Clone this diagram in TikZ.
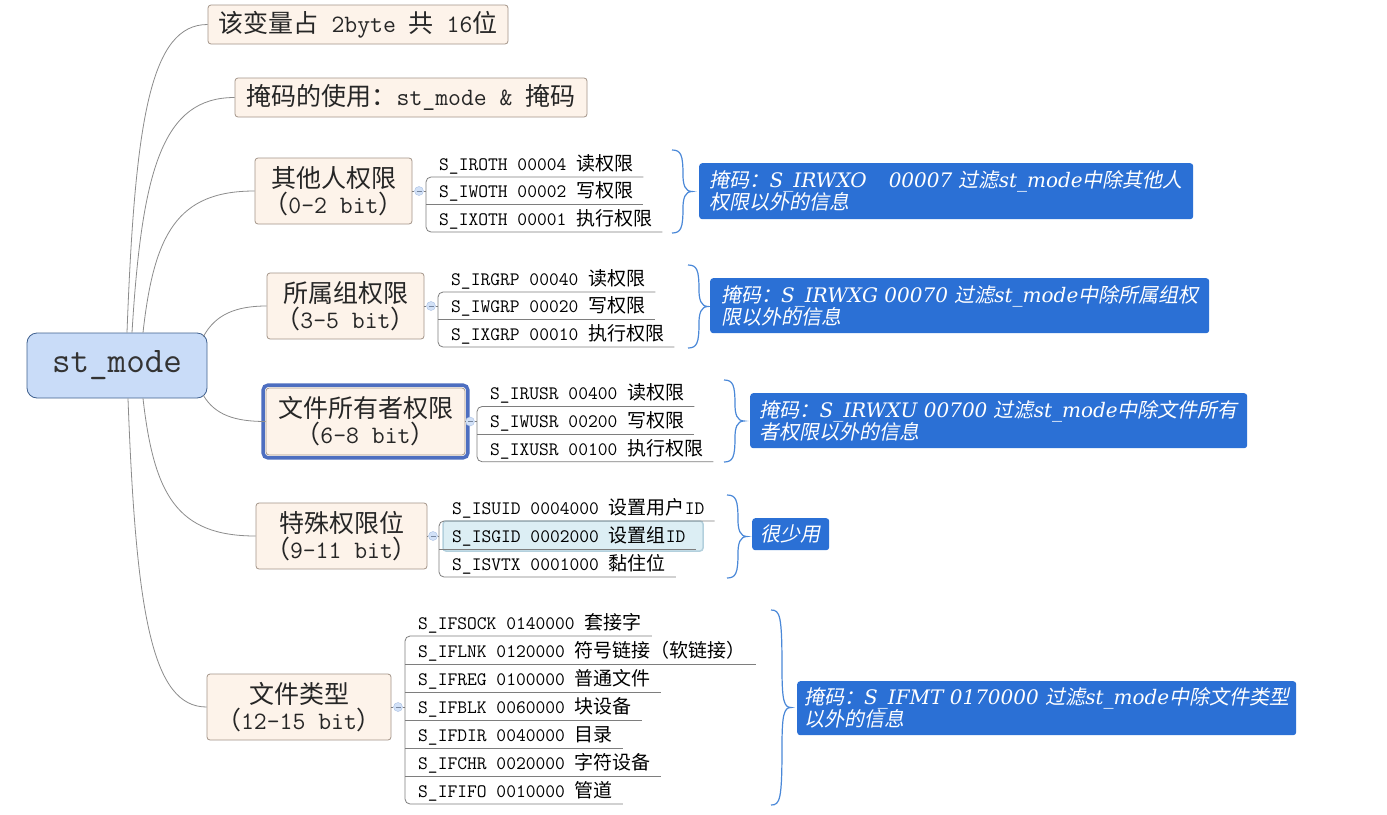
\documentclass[tikz,border=0pt]{standalone}
\usepackage{fontspec}
\newfontfamily\cjk{Noto Sans CJK SC}
\newfontfamily\cjkit[FakeSlant=0.2]{Noto Sans CJK SC}
\newfontfamily\noteserif{DejaVu Serif}
\usetikzlibrary{calc}

\definecolor{topicfill}{HTML}{FDF3EA}
\definecolor{topicline}{HTML}{A39488}
\definecolor{rootfill}{HTML}{C9DCF8}
\definecolor{rootline}{HTML}{40618F}
\definecolor{noteblue}{HTML}{2B70D5}
\definecolor{bracecol}{HTML}{4A88D8}
\definecolor{branchcol}{HTML}{8C8C8C}
\definecolor{selblue}{HTML}{4D6EC0}
\definecolor{hilitefill}{HTML}{DCEEF4}
\definecolor{hiliteline}{HTML}{B3D0DD}
\definecolor{togglefill}{HTML}{D2E1F7}
\definecolor{toggleline}{HTML}{A9BFE3}

% 花括号: x, 上端, 下端
\newcommand{\notebrace}[3]{%
  \draw[bracel] (#1,#2) .. controls ({#1+9},#2) and ({#1+11},{#2+5}) .. ({#1+11},{#2+0.3*(#3-#2)})
    .. controls ({#1+11},{0.5*(#2+#3)-7}) and ({#1+13},{0.5*(#2+#3)}) .. ({#1+20},{0.5*(#2+#3)})
    .. controls ({#1+13},{0.5*(#2+#3)}) and ({#1+11},{0.5*(#2+#3)+7}) .. ({#1+11},{#3-0.3*(#3-#2)})
    .. controls ({#1+11},{#3-5}) and ({#1+9},#3) .. (#1,#3);}

\begin{document}
\begin{tikzpicture}[x=1pt, y=-1pt,
  root/.style={draw=rootline, fill=rootfill, rounded corners=10pt, line width=0.8pt,
    minimum width=180pt, minimum height=65pt, font=\ttfamily\fontsize{36}{40}\selectfont, text=black!80},
  topic/.style={draw=topicline, fill=topicfill, rounded corners=3pt, line width=0.8pt, align=center,
    inner sep=0pt, font=\ttfamily\fontsize{25}{26}\selectfont, text=black!85},
  leaf/.style={anchor=south west, inner xsep=10pt, inner ysep=2.5pt, text height=15pt, text depth=4pt,
    font=\ttfamily\fontsize{19}{22}\selectfont},
  note/.style={anchor=north west, fill=noteblue, text=white, rounded corners=3pt, align=left,
    inner xsep=6pt, inner ysep=4pt, font=\noteserif\itshape\fontsize{20}{22}\selectfont},
  branch/.style={draw=branchcol, line width=0.8pt},
  leafline/.style={draw=branchcol!90!black, line width=0.8pt},
  toggle/.style={circle, draw=toggleline, fill=togglefill, minimum size=9pt, inner sep=0pt,
    path picture={\draw[toggleline!70!black, line width=0.6pt] ([xshift=-2.5pt]path picture bounding box.center) -- ([xshift=2.5pt]path picture bounding box.center);}},
  bracel/.style={line width=1.2pt, draw=bracecol},
  selframe/.style={draw=selblue, line width=3.5pt, rounded corners=5pt},
  ]
  \useasboundingbox (0,0) rectangle (1387,814);
  \fill[white] (0,0) rectangle (1387,814);

  \node[root] (root) at (117,365.5) {st\_mode};

  % 主题
  \node[topic, minimum width=300pt, minimum height=39pt] (t1) at (358,24.5)
    {{\cjk 该变量占} 2byte {\cjk 共} 16{\cjk 位}};
  \node[topic, minimum width=352pt, minimum height=39pt] (t2) at (411,97.5)
    {{\cjk 掩码的使用：}st\_mode \& {\cjk 掩码}};
  \node[topic, minimum width=157pt, minimum height=66pt] (t3) at (333.5,191)
    {{\cjk 其他人权限}\\{\cjk （}0-2 bit{\cjk ）}};
  \node[topic, minimum width=157pt, minimum height=66pt] (t4) at (345.5,306)
    {{\cjk 所属组权限}\\{\cjk （}3-5 bit{\cjk ）}};
  \node[topic, minimum width=199pt, minimum height=67pt] (t5) at (365.5,421.5)
    {{\cjk 文件所有者权限}\\{\cjk （}6-8 bit{\cjk ）}};
  \node[topic, minimum width=171pt, minimum height=66pt] (t6) at (341.5,536)
    {{\cjk 特殊权限位}\\{\cjk （}9-11 bit{\cjk ）}};
  \node[topic, minimum width=184pt, minimum height=66pt] (t7) at (299,707)
    {{\cjk 文件类型}\\{\cjk （}12-15 bit{\cjk ）}};
  \draw[selframe] ([xshift=-2.5pt,yshift=2.5pt]t5.north west) rectangle ([xshift=2.5pt,yshift=-2.5pt]t5.south east);

  % 分支
  \draw[branch] ([xshift=10pt]root.north) .. controls (135,117) and (151,24.5) .. (t1.west);
  \draw[branch] ([xshift=15pt]root.north) .. controls (142,168) and (163,97.5) .. (t2.west);
  \draw[branch] ([xshift=26pt]root.north) .. controls (154,234) and (177,191) .. (t3.west);
  \draw[branch] ([xshift=-4pt,yshift=-4pt]root.north east) .. controls (215,315) and (235,306) .. (t4.west);
  \draw[branch] ([xshift=-4pt,yshift=3pt]root.south east) .. controls (215,415) and (235,421.5) .. (t5.west);
  \draw[branch] ([xshift=26pt]root.south) .. controls (154,495) and (177,536) .. (t6.west);
  \draw[branch] ([xshift=11pt]root.south) .. controls (136,614) and (152,707) .. (t7.west);

  % 其他人权限
  \node[leaf] (l31) at (429,177) {S\_IROTH 00004 {\cjk 读权限}};
  \node[leaf] (l32) at (429,204.5) {S\_IWOTH 00002 {\cjk 写权限}};
  \node[leaf] (l33) at (429,232) {S\_IXOTH 00001 {\cjk 执行权限}};
  \coordinate (v3) at (426,191);
  \node[toggle] (k3) at (419,191) {};
  \draw[leafline] (t3.east) -- (k3) -- (v3);
  \draw[leafline, rounded corners=5pt] (l31.south east) -- (l31.south west -| v3) -- (l33.south west -| v3) -- (l33.south east);
  \draw[leafline] (l32.south west -| v3) -- (l32.south east);

  % 所属组权限
  \node[leaf] (l41) at (441,292) {S\_IRGRP 00040 {\cjk 读权限}};
  \node[leaf] (l42) at (441,319.5) {S\_IWGRP 00020 {\cjk 写权限}};
  \node[leaf] (l43) at (441,347) {S\_IXGRP 00010 {\cjk 执行权限}};
  \coordinate (v4) at (438,306);
  \node[toggle] (k4) at (431,306) {};
  \draw[leafline] (t4.east) -- (k4) -- (v4);
  \draw[leafline, rounded corners=5pt] (l41.south east) -- (l41.south west -| v4) -- (l43.south west -| v4) -- (l43.south east);
  \draw[leafline] (l42.south west -| v4) -- (l42.south east);

  % 文件所有者权限
  \node[leaf] (l51) at (480,406.5) {S\_IRUSR 00400 {\cjk 读权限}};
  \node[leaf] (l52) at (480,434) {S\_IWUSR 00200 {\cjk 写权限}};
  \node[leaf] (l53) at (480,461.7) {S\_IXUSR 00100 {\cjk 执行权限}};
  \coordinate (v5) at (477,421.5);
  \node[toggle] (k5) at (470,421.5) {};
  \draw[leafline] (t5.east) -- (k5) -- (v5);
  \draw[leafline, rounded corners=5pt] (l51.south east) -- (l51.south west -| v5) -- (l53.south west -| v5) -- (l53.south east);
  \draw[leafline] (l52.south west -| v5) -- (l52.south east);

  % 特殊权限位
  \draw[fill=hilitefill, draw=hiliteline, line width=1.5pt, rounded corners=3pt] (443,521) rectangle (703,551);
  \node[leaf] (l61) at (442,521) {S\_ISUID 0004000 {\cjk 设置用户}ID};
  \node[leaf] (l62) at (442,549) {S\_ISGID 0002000 {\cjk 设置组}ID};
  \node[leaf] (l63) at (442,577) {S\_ISVTX 0001000 {\cjk 黏住位}};
  \coordinate (v6) at (439,536);
  \node[toggle] (k6) at (433,536) {};
  \draw[leafline] (t6.east) -- (k6) -- (v6);
  \draw[leafline, rounded corners=5pt] (l61.south east) -- (l61.south west -| v6) -- (l63.south west -| v6) -- (l63.south east);
  \draw[leafline] (l62.south west -| v6) -- (l62.south east);

  % 文件类型
  \node[leaf] (l71) at (408,636) {S\_IFSOCK 0140000 {\cjk 套接字}};
  \node[leaf] (l72) at (408,664) {S\_IFLNK 0120000 {\cjk 符号链接（软链接）}};
  \node[leaf] (l73) at (408,692) {S\_IFREG 0100000 {\cjk 普通文件}};
  \node[leaf] (l74) at (408,720) {S\_IFBLK 0060000 {\cjk 块设备}};
  \node[leaf] (l75) at (408,748) {S\_IFDIR 0040000 {\cjk 目录}};
  \node[leaf] (l76) at (408,776) {S\_IFCHR 0020000 {\cjk 字符设备}};
  \node[leaf] (l77) at (408,804) {S\_IFIFO 0010000 {\cjk 管道}};
  \coordinate (v7) at (405,707);
  \node[toggle] (k7) at (398,707) {};
  \draw[leafline] (t7.east) -- (k7) -- (v7);
  \draw[leafline, rounded corners=5pt] (l71.south east) -- (l71.south west -| v7) -- (l77.south west -| v7) -- (l77.south east);
  \foreach \i in {2,...,6}
    \draw[leafline] (l7\i.south west -| v7) -- (l7\i.south east);

  % 花括号与说明
  \notebrace{672}{150}{233}
  \notebrace{688}{265}{348}
  \notebrace{724}{380}{462}
  \notebrace{727}{495}{578}
  \notebrace{771}{610}{805}

  \node[note, minimum width=494pt, minimum height=56pt] (n3) at (699,163)
    {{\cjkit 掩码：}S\_IRWXO\hspace{1.1em}00007 {\cjkit 过滤}st\_mode{\cjkit 中除其他人}\\{\cjkit 权限以外的信息}};
  \node[note, minimum width=499pt, minimum height=55pt] (n4) at (710,278)
    {{\cjkit 掩码：}S\_IRWXG 00070 {\cjkit 过滤}st\_mode{\cjkit 中除所属组权}\\{\cjkit 限以外的信息}};
  \node[note, minimum width=497pt, minimum height=55pt] (n5) at (750,393)
    {{\cjkit 掩码：}S\_IRWXU 00700 {\cjkit 过滤}st\_mode{\cjkit 中除文件所有}\\{\cjkit 者权限以外的信息}};
  \node[note, minimum width=77pt, minimum height=32pt] (n6) at (752,518) {{\cjkit 很少用}};
  \node[note, minimum width=499pt, minimum height=54pt] (n7) at (797,681)
    {{\cjkit 掩码：}S\_IFMT 0170000 {\cjkit 过滤}st\_mode{\cjkit 中除文件类型}\\{\cjkit 以外的信息}};
\end{tikzpicture}
\end{document}
